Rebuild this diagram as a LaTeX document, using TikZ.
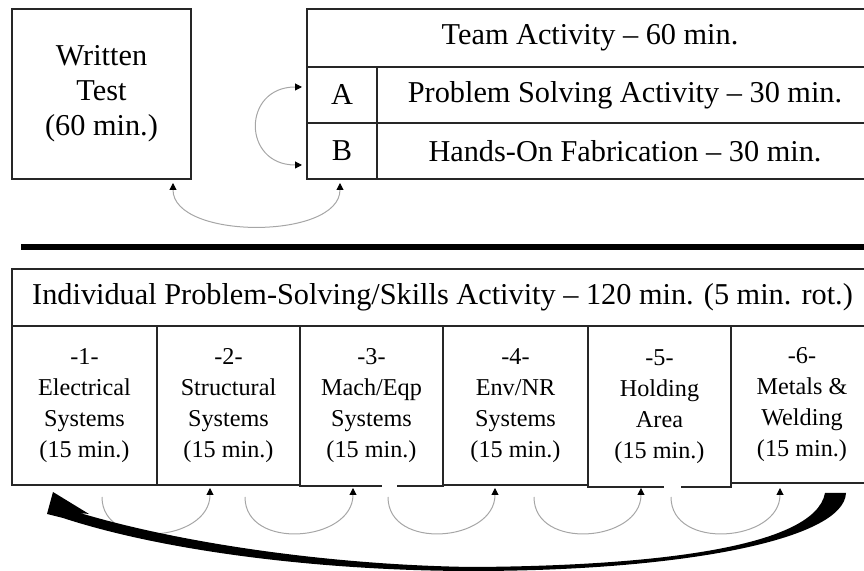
\documentclass[tikz,border=0pt]{standalone}
\usepackage{fontspec}
\setmainfont{Liberation Serif}
\usetikzlibrary{arrows.meta}
\begin{document}
\begin{tikzpicture}[x=0.5pt,y=-0.5pt,
  box/.style={draw=black!85, line width=0.9pt, inner sep=0pt, align=center, font=\fontsize{15.15}{17.5}\selectfont},
  cell/.style={draw=black!85, line width=0.9pt, inner sep=0pt, align=center, font=\fontsize{12.1}{15.5}\selectfont},
  arc/.style={draw=black!35, line width=0.5pt, -{Triangle[width=3.5pt,length=3.5pt,color=black]}},
  darc/.style={draw=black!35, line width=0.5pt, {Triangle[width=3.5pt,length=3.5pt,color=black]}-{Triangle[width=3.5pt,length=3.5pt,color=black]}}]
\useasboundingbox (0,0) rectangle (864,571);
\clip (0,0) rectangle (864,571);
% top part
\node[box, minimum width=89.5pt, minimum height=85pt] (wt) at (101.5,94) {Written\\Test\\(60 min.)};
\node[box, minimum width=283pt, minimum height=29pt] (team) at (590,38) {Team Activity -- 60 min.};
\node[box, minimum width=35pt, minimum height=28pt] (ca) at (342,95) {A};
\node[box, minimum width=248pt, minimum height=28pt] (ta) at (625,95) {Problem Solving Activity -- 30 min.};
\node[box, minimum width=35pt, minimum height=28pt] (cb) at (342,151) {B};
\node[box, minimum width=248pt, minimum height=28pt] (tb) at (625,151) {Hands-On Fabrication -- 30 min.};
\coordinate (abs) at (302,87);
\coordinate (abe) at (302,165);
\draw[darc] (abs) .. controls (242,87) and (242,165) .. (abe);
\coordinate (wts) at (173,183);
\coordinate (wte) at (340,183);
\draw[darc] (wts) .. controls (173,240) and (340,240) .. (wte);
% separator
\coordinate (sepl) at (21,247);
\coordinate (sepr) at (880,247);
\draw[line width=3.3pt] (sepl) -- (sepr);
% bottom table
\node[box, minimum width=430.5pt, minimum height=28.5pt] (ind) at (442.5,297.5) {Individual Problem-Solving/Skills Activity -- 120 min. (5 min. rot.)};
\node[cell, minimum width=72.5pt, minimum height=79.5pt] (c1) at (84.5,405.5) {-1-\\Electrical\\Systems\\(15 min.)};
\node[cell, minimum width=71.5pt, minimum height=79.5pt] (c2) at (228.5,405.5) {-2-\\Structural\\Systems\\(15 min.)};
\node[cell, minimum width=71.5pt, minimum height=80pt] (c3) at (371.5,406) {-3-\\Mach/Eqp\\Systems\\(15 min.)};
\node[cell, minimum width=72.5pt, minimum height=79.5pt] (c4) at (515.5,405.5) {-4-\\Env/NR\\Systems\\(15 min.)};
\node[cell, minimum width=71.5pt, minimum height=80.5pt] (c5) at (659.5,406.5) {-5-\\Holding\\Area\\(15 min.)};
\node[cell, minimum width=71pt, minimum height=78.5pt] (c6) at (802,404.5) {-6-\\Metals \&\\Welding\\(15 min.)};
\fill[white] (382,484) rectangle (397,489);
\fill[white] (664,485) rectangle (681,490);
% small rotation arcs
\coordinate (r1s) at (102,497); \coordinate (r1e) at (210,488);
\coordinate (r2s) at (245,497); \coordinate (r2e) at (353,488);
\coordinate (r3s) at (388,497); \coordinate (r3e) at (495,488);
\coordinate (r4s) at (534,497); \coordinate (r4e) at (641,488);
\coordinate (r5s) at (671,497); \coordinate (r5e) at (780,488);
\draw[arc] (r1s) .. controls (102,551) and (210,542) .. (r1e);
\draw[arc] (r2s) .. controls (245,551) and (353,542) .. (r2e);
\draw[arc] (r3s) .. controls (388,551) and (495,542) .. (r3e);
\draw[arc] (r4s) .. controls (534,551) and (641,542) .. (r4e);
\draw[arc] (r5s) .. controls (671,551) and (780,542) .. (r5e);
% big return arrow
\fill[black] (53,492) -- (89,514) -- (80,513)
  .. controls (180,543) and (330,565) .. (472,567)
  .. controls (650,566) and (815,548) .. (825,493)
  -- (846,493)
  .. controls (844,540) and (680,571) .. (472,571)
  .. controls (330,571) and (170,553) .. (63,518)
  -- (47,514) -- cycle;
\end{tikzpicture}
\end{document}
